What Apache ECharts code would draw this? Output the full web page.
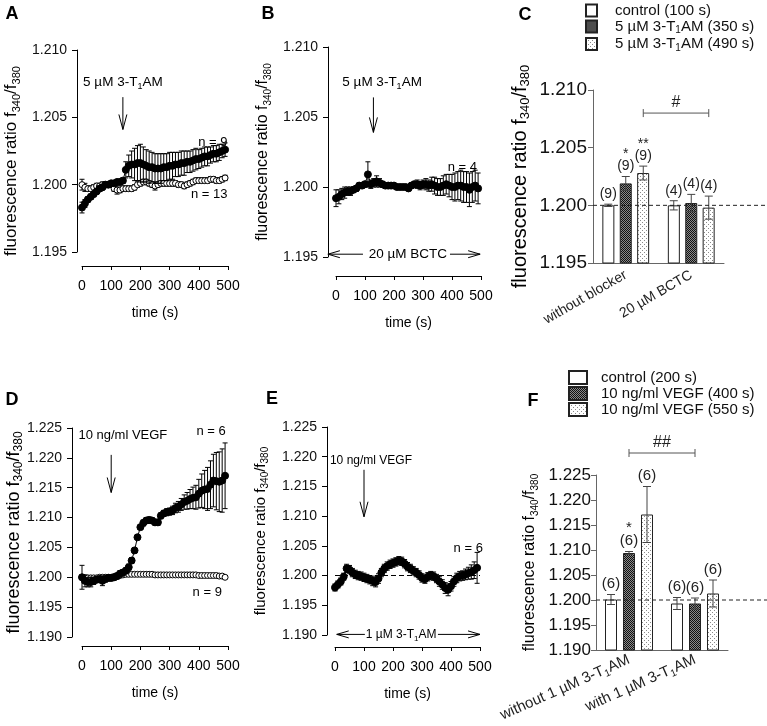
<!DOCTYPE html>
<html lang="en">
<head>
<meta charset="UTF-8">
<title>3-T1AM and VEGF calcium traces</title>
<script src="https://cdn.jsdelivr.net/npm/echarts@6/dist/echarts.min.js"></script>
<style>html,body{margin:0;background:#fff;}</style>
</head>
<body>
<div id="main" style="width:767px;height:726px;"></div>
<script>
// sampling times of the traces (s)
var timeS = [0,10,20,30,40,50,60,70,80,90,100,110,120,130,140,150,160,170,180,190,
  200,210,220,230,240,250,260,270,280,290,300,310,320,330,340,350,360,370,380,390,
  400,410,420,430,440,450,460,470,480,490];

// A: 5 µM 3-T1AM (n = 9) and control (n = 13)
var aTreated = [1.1983,1.1986,1.1989,1.1991,1.1993,1.1995,1.1997,1.1998,1.2000,1.2000,
  1.2001,1.2001,1.2002,1.2002,1.2003,1.2011,1.2014,1.2015,1.2015,1.2016,
  1.2016,1.2015,1.2014,1.2013,1.2013,1.2012,1.2012,1.2012,1.2013,1.2013,
  1.2014,1.2014,1.2015,1.2015,1.2016,1.2016,1.2017,1.2017,1.2018,1.2019,
  1.2019,1.2020,1.2021,1.2021,1.2022,1.2023,1.2023,1.2024,1.2025,1.2026];
var aTreatedErr = [0.0004,0.0003,0.0002,0.0002,0.0002,0.0002,0.0002,0.0001,0.0001,0.0001,
  0.0001,0.0001,0.0001,0.0002,0.0002,0.0006,0.0008,0.0010,0.0012,0.0013,
  0.0014,0.0013,0.0012,0.0012,0.0011,0.0011,0.0011,0.0011,0.0010,0.0010,
  0.0010,0.0010,0.0009,0.0009,0.0009,0.0009,0.0008,0.0008,0.0008,0.0008,
  0.0007,0.0007,0.0007,0.0007,0.0006,0.0006,0.0006,0.0006,0.0005,0.0005];
var aControl = [1.2000,1.1998,1.1997,1.1997,1.1998,1.1999,1.1999,1.2000,1.2000,1.2000,
  1.2000,1.1997,1.1996,1.1996,1.1997,1.1997,1.1997,1.1997,1.1998,1.2000,
  1.2001,1.2002,1.2002,1.2001,1.2000,1.1999,1.2000,1.2001,1.2001,1.2001,
  1.2001,1.2001,1.2001,1.2000,1.2000,1.1999,1.2000,1.2001,1.2002,1.2003,
  1.2003,1.2003,1.2003,1.2003,1.2004,1.2004,1.2003,1.2003,1.2004,1.2005];
var aControlErr = [0.0004,0.0003,0.0002,0.0002,0.0002,0.0002,0.0002,0.0002,0.0002,0.0002,
  0.0002,0.0002,0.0003,0.0002,0.0002,0.0002,0.0002,0.0002,0.0002,0.0002,
  0.0002,0.0002,0.0002,0.0002,0.0002,0.0003,0.0002,0.0002,0.0002,0.0002,
  0.0002,0.0002,0.0002,0.0002,0.0002,0.0002,0.0002,0.0002,0.0002,0.0002,
  0.0002,0.0002,0.0002,0.0002,0.0002,0.0002,0.0002,0.0002,0.0002,0.0002];

// B: 3-T1AM under 20 µM BCTC (n = 4)
var bBctc = [1.1992,1.1993,1.1995,1.1996,1.1997,1.1997,1.1998,1.1999,1.2001,1.2001,
  1.2002,1.2009,1.2002,1.2003,1.2004,1.2003,1.2002,1.2001,1.2001,1.2001,
  1.2001,1.2000,1.2000,1.2000,1.2000,1.1999,1.2001,1.2002,1.2002,1.2001,
  1.2002,1.2002,1.2001,1.2002,1.2001,1.2000,1.2000,1.2001,1.2002,1.2001,
  1.2000,1.2000,1.2001,1.2001,1.2000,1.2000,1.1998,1.2000,1.2001,1.1999];
var bBctcErr = [0.0006,0.0005,0.0004,0.0004,0.0003,0.0003,0.0002,0.0002,0.0002,0.0002,
  0.0002,0.0009,0.0003,0.0003,0.0004,0.0003,0.0002,0.0001,0.0001,0.0001,
  0.0001,0.0001,0.0001,0.0001,0.0001,0.0001,0.0002,0.0002,0.0003,0.0003,
  0.0003,0.0004,0.0004,0.0005,0.0006,0.0006,0.0006,0.0007,0.0007,0.0008,
  0.0009,0.0010,0.0010,0.0011,0.0011,0.0011,0.0012,0.0011,0.0011,0.0011];

// D: 10 ng/ml VEGF (n = 6) and control (n = 9)
var dVegf = [1.2000,1.1994,1.1992,1.1992,1.1994,1.1996,1.1997,1.1994,1.1997,1.1999,
  1.1999,1.2000,1.2002,1.2006,1.2008,1.2011,1.2017,1.2028,1.2045,1.2067,
  1.2084,1.2091,1.2095,1.2096,1.2095,1.2092,1.2092,1.2103,1.2107,1.2109,
  1.2110,1.2112,1.2116,1.2118,1.2122,1.2126,1.2128,1.2131,1.2133,1.2134,
  1.2140,1.2145,1.2147,1.2148,1.2155,1.2162,1.2161,1.2160,1.2162,1.2170];
var dVegfErr = [0.0020,0.0010,0.0008,0.0008,0.0006,0.0005,0.0005,0.0008,0.0005,0.0005,
  0.0005,0.0005,0.0005,0.0005,0.0005,0.0005,0.0005,0.0005,0.0004,0.0004,
  0.0004,0.0005,0.0005,0.0005,0.0005,0.0005,0.0005,0.0005,0.0005,0.0006,
  0.0006,0.0007,0.0008,0.0009,0.0010,0.0012,0.0014,0.0016,0.0018,0.0020,
  0.0024,0.0028,0.0032,0.0036,0.0040,0.0044,0.0048,0.0050,0.0053,0.0055];
var dControl = [1.2000,1.1999,1.1999,1.1999,1.1999,1.1999,1.2000,1.2000,1.2000,1.2000,
  1.2000,1.2001,1.2002,1.2003,1.2004,1.2005,1.2005,1.2005,1.2005,1.2005,
  1.2005,1.2005,1.2005,1.2005,1.2005,1.2004,1.2004,1.2004,1.2004,1.2004,
  1.2004,1.2004,1.2004,1.2004,1.2004,1.2004,1.2004,1.2004,1.2004,1.2004,
  1.2003,1.2003,1.2003,1.2003,1.2003,1.2003,1.2003,1.2002,1.2002,1.2000];
var dControlErr = [0.0004,0.0004,0.0004,0.0004,0.0003,0.0002,0.0002,0.0002,0.0002,0.0002,
  0.0002,0.0002,0.0002,0.0002,0.0002,0.0002,0.0002,0.0002,0.0002,0.0002,
  0.0002,0.0002,0.0002,0.0002,0.0002,0.0002,0.0002,0.0002,0.0002,0.0002,
  0.0002,0.0002,0.0002,0.0002,0.0002,0.0002,0.0002,0.0002,0.0002,0.0002,
  0.0002,0.0002,0.0002,0.0002,0.0002,0.0002,0.0002,0.0002,0.0002,0.0002];

// E: VEGF under 1 µM 3-T1AM (n = 6)
var eVegf = [1.1980,1.1985,1.1990,1.1998,1.2012,1.2010,1.2005,1.2002,1.2000,1.1999,
  1.1997,1.1995,1.1993,1.1991,1.1989,1.1995,1.2005,1.2012,1.2016,1.2019,
  1.2021,1.2023,1.2025,1.2024,1.2020,1.2015,1.2012,1.2008,1.2005,1.2001,
  1.1996,1.1994,1.1998,1.2000,1.1999,1.1995,1.1990,1.1985,1.1979,1.1976,
  1.1982,1.1990,1.1996,1.1999,1.2000,1.2002,1.2004,1.2006,1.2009,1.2013];
var eVegfErr = [0.0006,0.0006,0.0006,0.0006,0.0007,0.0007,0.0007,0.0007,0.0007,0.0007,
  0.0007,0.0007,0.0007,0.0008,0.0008,0.0008,0.0007,0.0007,0.0007,0.0007,
  0.0007,0.0007,0.0007,0.0007,0.0007,0.0007,0.0007,0.0007,0.0007,0.0007,
  0.0007,0.0007,0.0007,0.0007,0.0007,0.0007,0.0008,0.0008,0.0009,0.0010,
  0.0008,0.0008,0.0008,0.0008,0.0008,0.0009,0.0010,0.0012,0.0014,0.0026];

// C: bar summary, one row per series, one column per category
var cCats = ['without blocker', '20 µM BCTC'];
var cSeries = ['control (100 s)', '5 µM 3-T_{1}AM (350 s)', '5 µM 3-T_{1}AM (490 s)'];
var cMean = [[1.2000, 1.2000], [1.2019, 1.2002], [1.2028, 1.1998]];
var cErr = [[0.0001, 0.0004], [0.0006, 0.00075], [0.0006, 0.0010]];
var cN = [['(9)', '(4)'], ['(9)', '(4)'], ['(9)', '(4)']];
var cStars = [['', ''], ['*', ''], ['**', '']];

// F: bar summary
var fCats = ['without 1 µM 3-T_{1}AM', 'with 1 µM 3-T_{1}AM'];
var fSeries = ['control (200 s)', '10 ng/ml VEGF (400 s)', '10 ng/ml VEGF (550 s)'];
var fMean = [[1.2001, 1.1993], [1.2094, 1.1993], [1.2171, 1.2013]];
var fErr = [[0.0010, 0.0012], [0.0003, 0.0011], [0.0056, 0.0027]];
var fN = [['(6)', '(6)'], ['(6)', '(6)'], ['(6)', '(6)']];
var fStars = [['', ''], ['*', ''], ['', '']];

var SANS = '"Liberation Sans", Arial, Helvetica, sans-serif';
var YNAME = 'fluorescence ratio f_{340}/f_{380}';

// 'T_{1}' -> rich text with a subscript
function mark(s) {
  return s.split(/(_\{[^}]*\})/).filter(function (p) { return p; }).map(function (p) {
    return p.charAt(0) === '_' ? '{s|' + p.slice(2, -1) + '}' : '{n|' + p + '}';
  }).join('');
}
function richStyle(size, color, lh) {
  var sub = Math.round(size * 0.65);
  return {
    n: { fontSize: size, fontFamily: SANS, color: color, lineHeight: lh || size + 4 },
    s: { fontSize: sub, fontFamily: SANS, color: color, lineHeight: sub + 1, verticalAlign: 'bottom' }
  };
}
function pattern(size, draw) {
  var c = document.createElement('canvas');
  c.width = c.height = size;
  draw(c.getContext('2d'));
  return { image: c, repeat: 'repeat' };
}
var HATCH = pattern(2, function (g) {
  g.fillStyle = '#8a8a8a'; g.fillRect(0, 0, 2, 2);
  g.fillStyle = '#111'; g.fillRect(0, 0, 1, 1); g.fillRect(1, 1, 1, 1);
});
var DOTS = pattern(4, function (g) {
  g.fillStyle = '#fff'; g.fillRect(0, 0, 4, 4);
  g.fillStyle = '#8a8a8a'; g.fillRect(0, 0, 1, 1); g.fillRect(2, 2, 1, 1);
});
var FILLS = ['#fff', HATCH, DOTS];

// pixel boxes of the six panels
var boxes = [
  { left: 82, top: 50, width: 146, height: 202 },   // A
  { left: 336, top: 47, width: 145, height: 210 },  // B
  { left: 593, top: 90, width: 131, height: 173 },  // C
  { left: 82, top: 428, width: 146, height: 209 },  // D
  { left: 335, top: 427, width: 145, height: 208 }, // E
  { left: 596, top: 475, width: 132, height: 175 }  // F
];

function timeX(g, off) {
  return {
    type: 'value', gridIndex: g, min: 0, max: 500, interval: 100, offset: off,
    name: 'time (s)', nameLocation: 'middle', nameGap: 40,
    nameTextStyle: { fontSize: 14, fontFamily: SANS, color: '#000' },
    axisLine: { onZero: false, lineStyle: { color: '#000', width: 1 } },
    axisTick: { length: 4, lineStyle: { color: '#000' } },
    axisLabel: { fontSize: 14, fontFamily: SANS, color: '#000', margin: 13, showMinLabel: true, showMaxLabel: true },
    splitLine: { show: false }
  };
}
function ratioY(g, min, max, off, size, gap, pad, tickSize, color, margin) {
  return {
    type: 'value', gridIndex: g, min: min, max: max, interval: 0.005, offset: off,
    name: mark(YNAME), nameLocation: 'middle', nameRotate: 90, nameGap: gap, nameMoveOverlap: false,
    nameTextStyle: { rich: richStyle(size, '#000'), padding: pad },
    axisLine: { show: true, onZero: false, lineStyle: { color: color, width: 1 } },
    axisTick: { show: true, length: 5, lineStyle: { color: color } },
    axisLabel: { fontSize: tickSize, fontFamily: SANS, color: '#111', margin: margin,
      showMinLabel: true, showMaxLabel: true, formatter: function (v) { return v.toFixed(3); } },
    splitLine: { show: false }
  };
}
function catX(g, cats, rot, size, margin) {
  return {
    type: 'category', gridIndex: g, data: cats,
    axisLine: { lineStyle: { color: '#666', width: 1 } },
    axisTick: { show: false },
    axisLabel: { interval: 0, rotate: rot, margin: margin, formatter: mark, rich: richStyle(size, '#222') }
  };
}

function traceErr(g, vals, errs, z) {
  return {
    type: 'custom', xAxisIndex: g, yAxisIndex: g, silent: true, z: z,
    data: timeS.map(function (t, k) { return [t, vals[k] - errs[k], vals[k] + errs[k]]; }),
    encode: { x: 0, y: [1, 2] },
    renderItem: function (p, api) {
      var lo = api.coord([api.value(0), api.value(1)]);
      var hi = api.coord([api.value(0), api.value(2)]);
      var st = { stroke: '#000', lineWidth: 1 };
      return { type: 'group', children: [
        { type: 'line', shape: { x1: lo[0], y1: lo[1], x2: hi[0], y2: hi[1] }, style: st },
        { type: 'line', shape: { x1: hi[0] - 2.5, y1: hi[1], x2: hi[0] + 2.5, y2: hi[1] }, style: st },
        { type: 'line', shape: { x1: lo[0] - 2.5, y1: lo[1], x2: lo[0] + 2.5, y2: lo[1] }, style: st }
      ] };
    }
  };
}
function trace(g, vals, filled, z) {
  return {
    type: 'line', xAxisIndex: g, yAxisIndex: g, silent: true, z: z,
    data: timeS.map(function (t, k) { return [t, vals[k]]; }),
    symbol: 'circle', symbolSize: filled ? 7 : 6, showAllSymbol: true,
    lineStyle: { color: '#000', width: 1 },
    itemStyle: { color: filled ? '#000' : '#fff', borderColor: '#000', borderWidth: 1 }
  };
}
function bars(g, names, means, startValue, gap) {
  return names.map(function (nm, k) {
    return {
      type: 'bar', name: nm, xAxisIndex: g, yAxisIndex: g, data: means[k], startValue: startValue,
      barWidth: 12, barGap: gap, silent: true, z: 3,
      itemStyle: { color: FILLS[k], borderColor: '#222', borderWidth: 1 }
    };
  });
}
function barErr(g, means, errs, ns, stars, step, size) {
  var rows = [];
  means.forEach(function (m, k) {
    m.forEach(function (v, c) { rows.push([c, v - errs[k][c], v + errs[k][c], k]); });
  });
  return {
    type: 'custom', xAxisIndex: g, yAxisIndex: g, silent: true, z: 5, data: rows,
    encode: { x: 0, y: [1, 2] },
    renderItem: function (p, api) {
      var c = api.value(0), k = api.value(3);
      var lo = api.coord([c, api.value(1)]), hi = api.coord([c, api.value(2)]);
      var x = lo[0] + (k - 1) * step;
      var st = { stroke: '#444', lineWidth: 1 };
      var kids = [
        { type: 'line', shape: { x1: x, y1: lo[1], x2: x, y2: hi[1] }, style: st },
        { type: 'line', shape: { x1: x - 4, y1: hi[1], x2: x + 4, y2: hi[1] }, style: st },
        { type: 'line', shape: { x1: x - 4, y1: lo[1], x2: x + 4, y2: lo[1] }, style: st },
        { type: 'text', x: x, y: hi[1] - 3, style: { text: ns[k][c], fill: '#222',
          font: size + 'px ' + SANS, align: 'center', verticalAlign: 'bottom' } }
      ];
      if (stars[k][c]) {
        kids.push({ type: 'text', x: x, y: hi[1] - size - 1, style: { text: stars[k][c], fill: '#222',
          font: size + 'px ' + SANS, align: 'center', verticalAlign: 'bottom' } });
      }
      return { type: 'group', children: kids };
    }
  };
}
function legendAt(names, left, top, w, h, pad) {
  return {
    data: names, orient: 'vertical', left: left, top: top, padding: 0,
    itemWidth: w, itemHeight: h, itemGap: 1,
    icon: 'rect', selectedMode: false, formatter: mark,
    textStyle: { rich: richStyle(15, '#111', 18), padding: [0, 0, 0, pad] }
  };
}

var eLine = trace(4, eVegf, true, 4);
eLine.markLine = { silent: true, symbol: 'none', label: { show: false },
  lineStyle: { color: '#000', type: [5, 3], width: 1 }, data: [{ yAxis: 1.2 }] };

var option = {
  animation: false,
  backgroundColor: '#fff',
  grid: boxes.map(function (b) {
    return { left: b.left, top: b.top, width: b.width, height: b.height, containLabel: false, outerBoundsMode: 'none' };
  }),
  xAxis: [timeX(0, 14), timeX(1, 19), catX(2, cCats, 30, 14, 11), timeX(3, 9), timeX(4, 12), catX(5, fCats, 24, 15, 9)],
  yAxis: [
    ratioY(0, 1.195, 1.210, 5, 17, 55, [0, 20, 0, 0], 14, '#000', 10),
    ratioY(1, 1.195, 1.210, 8, 16, 55, [0, 0, 0, 0], 14, '#000', 10),
    ratioY(2, 1.195, 1.210, 0, 20, 61, [0, 0, 0, 0], 19, '#666', 6),
    ratioY(3, 1.190, 1.225, 10, 18, 47, [0, 0, 0, 0], 14, '#000', 10),
    ratioY(4, 1.190, 1.225, 8, 15, 57, [0, 0, 0, 0], 14, '#000', 10),
    ratioY(5, 1.190, 1.225, 0, 16, 56, [0, 0, 0, 0], 17, '#666', 5)
  ],
  legend: [
    legendAt(cSeries, 585, 3, 11, 12, 13),
    legendAt(fSeries, 568, 370, 18, 13, 9)
  ],
  series: [].concat(
    [traceErr(0, aControl, aControlErr, 1), trace(0, aControl, false, 2),
     traceErr(0, aTreated, aTreatedErr, 3), trace(0, aTreated, true, 4),
     traceErr(1, bBctc, bBctcErr, 1), trace(1, bBctc, true, 2)],
    bars(2, cSeries, cMean, 1.195, '45%'),
    [barErr(2, cMean, cErr, cN, cStars, 17.5, 14),
     traceErr(3, dControl, dControlErr, 1), trace(3, dControl, false, 2),
     traceErr(3, dVegf, dVegfErr, 3), trace(3, dVegf, true, 4),
     traceErr(4, eVegf, eVegfErr, 3), eLine],
    bars(5, fSeries, fMean, 1.190, '50%'),
    [barErr(5, fMean, fErr, fN, fStars, 18, 15)]
  )
};

var chart = echarts.init(document.getElementById('main'), null, { renderer: 'canvas' });
chart.setOption(option);

// annotations placed in data space
function px(g, pt) { return chart.convertToPixel({ gridIndex: g }, pt); }
var LINE = { stroke: '#000', lineWidth: 1 };
function note(g, pt, s, align, size) {
  var p = px(g, pt);
  return { type: 'text', x: p[0], y: p[1], silent: true,
    style: { text: mark(s), rich: richStyle(size, '#000'), align: align, verticalAlign: 'middle' } };
}
function arrowDown(g, t, v1, v2) {
  var a = px(g, [t, v1]), b = px(g, [t, v2]);
  return [
    { type: 'line', silent: true, shape: { x1: a[0], y1: a[1], x2: b[0], y2: b[1] }, style: LINE },
    { type: 'polyline', silent: true, shape: { points: [[b[0] - 4, b[1] - 15], [b[0], b[1]], [b[0] + 4, b[1] - 15]] }, style: LINE }
  ];
}
function arrowSide(g, v, tFrom, tTip) {
  var a = px(g, [tFrom, v]), b = px(g, [tTip, v]);
  var d = b[0] > a[0] ? 1 : -1;
  return [
    { type: 'line', silent: true, shape: { x1: a[0], y1: a[1], x2: b[0], y2: b[1] }, style: LINE },
    { type: 'polyline', silent: true, shape: { points: [[b[0] - d * 12, b[1] - 3.5], [b[0], b[1]], [b[0] - d * 12, b[1] + 3.5]] }, style: LINE }
  ];
}
function bracket(g, c1, k1, c2, k2, v, step, label) {
  var p1 = px(g, [c1, v]), p2 = px(g, [c2, v]);
  var x1 = p1[0] + (k1 - 1) * step, x2 = p2[0] + (k2 - 1) * step, y = p1[1];
  var st = { stroke: '#555', lineWidth: 1 };
  return [
    { type: 'line', silent: true, shape: { x1: x1, y1: y, x2: x2, y2: y }, style: st },
    { type: 'line', silent: true, shape: { x1: x1, y1: y - 4, x2: x1, y2: y + 4 }, style: st },
    { type: 'line', silent: true, shape: { x1: x2, y1: y - 4, x2: x2, y2: y + 4 }, style: st },
    { type: 'text', silent: true, x: (x1 + x2) / 2, y: y - 2,
      style: { text: label, fill: '#222', font: '16px ' + SANS, align: 'center', verticalAlign: 'bottom' } }
  ];
}
function refLine(g, v, x1, x2) {
  var y = px(g, [0, v])[1];
  return { type: 'line', silent: true, z: 10, shape: { x1: x1, y1: y, x2: x2, y2: y },
    style: { stroke: '#222', lineWidth: 1, lineDash: [4, 3] } };
}
function letter(t, x, y) {
  return { type: 'text', x: x, y: y, silent: true,
    style: { text: t, fill: '#000', font: 'bold 18px ' + SANS, align: 'center', verticalAlign: 'middle' } };
}

var gfx = [].concat(
  [letter('A', 12, 14), letter('B', 268, 14), letter('C', 525, 15),
   letter('D', 12, 400), letter('E', 272, 399), letter('F', 533, 401)],
  [note(0, [140, 1.2076], '5 µM 3-T_{1}AM', 'center', 13.5)], arrowDown(0, 140, 1.2065, 1.2041),
  [note(0, [498, 1.2031], 'n = 9', 'right', 13)], [note(0, [498, 1.1993], 'n = 13', 'right', 13)],
  [note(1, [159, 1.2075], '5 µM 3-T_{1}AM', 'center', 13.5)], arrowDown(1, 129, 1.2064, 1.2039),
  [note(1, [486, 1.2014], 'n = 4', 'right', 13), note(1, [248, 1.1952], '20 µM BCTC', 'center', 13.5)],
  arrowSide(1, 1.1952, 93, -28), arrowSide(1, 1.1952, 393, 497),
  [note(3, [140, 1.2238], '10 ng/ml VEGF', 'center', 13)], arrowDown(3, 100, 1.2205, 1.2142),
  [note(3, [492, 1.2244], 'n = 6', 'right', 13), note(3, [479, 1.1975], 'n = 9', 'right', 13)],
  [note(4, [124, 1.2194], '10 ng/ml VEGF', 'center', 12)], arrowDown(4, 100, 1.2178, 1.2099),
  [note(4, [510, 1.2046], 'n = 6', 'right', 13), note(4, [228, 1.1901], '1 µM 3-T_{1}AM', 'center', 12)],
  arrowSide(4, 1.1901, 103, 6), arrowSide(4, 1.1901, 355, 500),
  bracket(2, 0, 2, 1, 2, 1.2080, 17.5, '#'),
  bracket(5, 0, 1, 1, 1, 1.2294, 18, '##'),
  [refLine(2, 1.2, 593, 765), refLine(5, 1.2, 596, 767)]
);
chart.setOption({ graphic: gfx });
</script>
</body>
</html>
